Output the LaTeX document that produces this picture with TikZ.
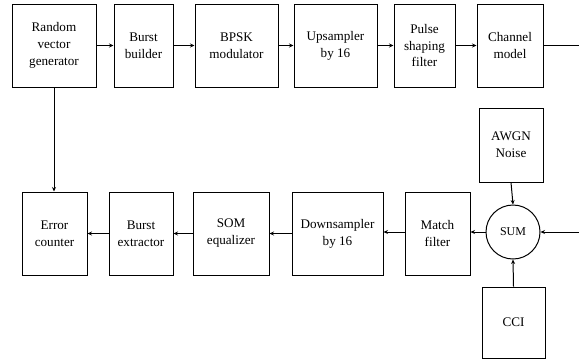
\documentclass[tikz,border=0pt]{standalone}
\usepackage{fontspec}
\setmainfont{Liberation Serif}
\usetikzlibrary{arrows.meta}
\begin{document}
\begin{tikzpicture}[x=1bp,y=-1bp,
  blk/.style={draw,line width=1pt,align=center,inner sep=1pt,font=\fontsize{13.2}{17}\selectfont},
  conn/.style={line width=1pt,-{Stealth[length=4.5pt,width=4pt]}},
  plain/.style={line width=1pt}]
\useasboundingbox (0,0) rectangle (579,360);
\node[blk,minimum width=84bp,minimum height=83bp] (rvg) at (54,45.5) {Random\\vector\\generator};
\node[blk,minimum width=59bp,minimum height=83bp] (bb) at (143.5,45.5) {Burst\\builder};
\node[blk,minimum width=83bp,minimum height=83bp] (bpsk) at (236.5,45.5) {BPSK\\modulator};
\node[blk,minimum width=83bp,minimum height=83bp] (up) at (335.5,45.5) {Upsampler\\by 16};
\node[blk,minimum width=61bp,minimum height=83bp] (psf) at (424.5,45.5) {Pulse\\shaping\\filter};
\node[blk,minimum width=66bp,minimum height=83bp] (ch) at (510,45.5) {Channel\\model};
\coordinate (chout) at (579,45.5);
\node[blk,minimum width=64bp,minimum height=74bp] (awgn) at (511,145) {AWGN\\Noise};
\node[draw,line width=1pt,circle,minimum size=54bp,inner sep=0pt,font=\fontsize{12}{14}\selectfont] (sum) at (513,232) {SUM};
\coordinate (sumin) at (579,232);
\node[blk,minimum width=63bp,minimum height=71bp] (cci) at (513.5,322.5) {CCI};
\node[blk,minimum width=65bp,minimum height=83bp] (mf) at (437.5,233.5) {Match\\filter};
\node[blk,minimum width=91bp,minimum height=83bp] (ds) at (337.5,233.5) {Downsampler\\by 16};
\node[blk,minimum width=76bp,minimum height=83bp] (som) at (231,233.5) {SOM\\equalizer};
\node[blk,minimum width=64bp,minimum height=83bp] (be) at (141,233.5) {Burst\\extractor};
\node[blk,minimum width=65bp,minimum height=83bp] (ec) at (54.5,233.5) {Error\\counter};
\draw[conn] (rvg) -- (bb);
\draw[conn] (bb) -- (bpsk);
\draw[conn] (bpsk) -- (up);
\draw[conn] (up) -- (psf);
\draw[conn] (psf) -- (ch);
\draw[plain] (ch.east) -- (chout);
\draw[conn] (sumin) -- (sum.east);
\draw[conn] (awgn.south) -- (sum.north);
\draw[conn] (cci.north) -- (sum.south);
\draw[conn] (sum.west) -- (mf.east |- sum.west);
\draw[conn] (mf.west |- sum.west) -- (ds.east |- sum.west);
\draw[conn] (ds) -- (som);
\draw[conn] (som) -- (be);
\draw[conn] (be) -- (ec);
\draw[conn] (rvg.south) -- (ec.north -| rvg.south);
\end{tikzpicture}
\end{document}
